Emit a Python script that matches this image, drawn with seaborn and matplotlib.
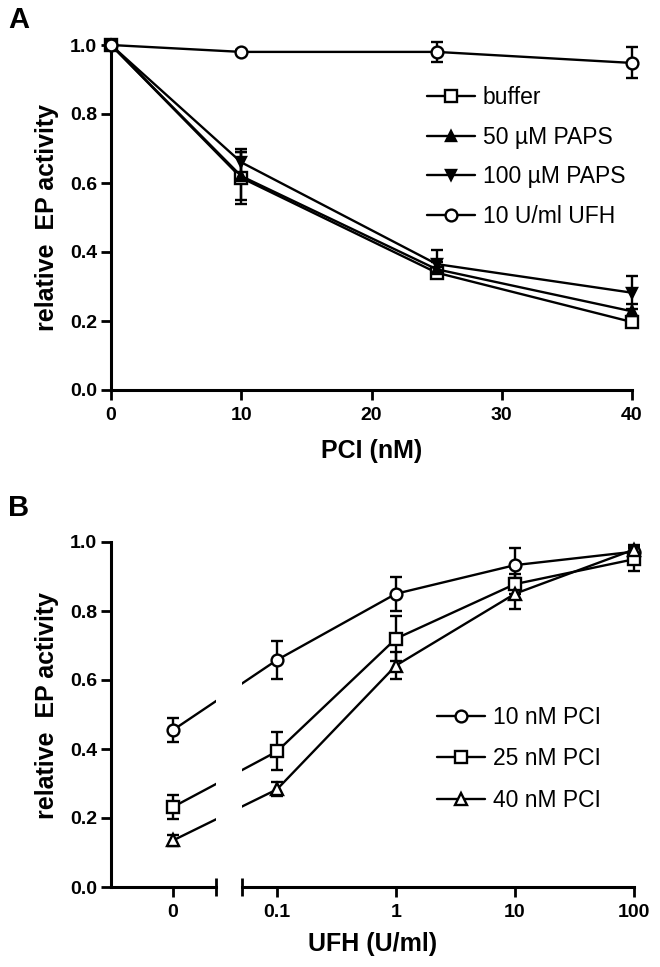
import matplotlib
matplotlib.use('Agg')
import matplotlib.pyplot as plt
import numpy as np
import seaborn as sns

# Panel A: EP activity vs PCI concentration
pci_nm = [0, 10, 25, 40]
buffer_mean = [1.0, 0.615, 0.34, 0.197]
buffer_err = [0.0, 0.075, 0.012, 0.015]
paps50_mean = [1.0, 0.62, 0.35, 0.228]
paps50_err = [0.0, 0.07, 0.02, 0.02]
paps100_mean = [1.0, 0.66, 0.365, 0.282]
paps100_err = [0.0, 0.04, 0.04, 0.047]
ufh10_mean = [1.0, 0.98, 0.98, 0.948]
ufh10_err = [0.0, 0.005, 0.03, 0.045]
labels_a = ['buffer', '50 µM PAPS', '100 µM PAPS', '10 U/ml UFH']

# Panel B: EP activity vs UFH concentration
ufh_u_ml = [0, 0.1, 1, 10, 100]
ufh_tick_labels = ['0', '0.1', '1', '10', '100']
pci10_mean = [0.455, 0.658, 0.85, 0.933, 0.972]
pci10_err = [0.035, 0.055, 0.05, 0.05, 0.012]
pci25_mean = [0.232, 0.393, 0.72, 0.878, 0.95]
pci25_err = [0.035, 0.055, 0.065, 0.03, 0.035]
pci40_mean = [0.135, 0.283, 0.642, 0.85, 0.978]
pci40_err = [0.015, 0.02, 0.04, 0.045, 0.012]
labels_b = ['10 nM PCI', '25 nM PCI', '40 nM PCI']

sns.set_style('ticks')
plt.rcParams['font.family'] = ['Liberation Sans', 'DejaVu Sans']
plt.rcParams['font.weight'] = 'bold'
plt.rcParams['axes.labelweight'] = 'bold'
plt.rcParams['text.color'] = 'black'
plt.rcParams['axes.labelcolor'] = 'black'
plt.rcParams['axes.edgecolor'] = 'black'
plt.rcParams['xtick.color'] = 'black'
plt.rcParams['ytick.color'] = 'black'

LW = 1.7
W, H = 660, 967


def style_axes(ax):
    for s in ax.spines.values():
        s.set_linewidth(2.2)
        s.set_color('black')
    ax.tick_params(width=2.0, length=7, labelsize=14, colors='black')
    ax.tick_params(axis='x', pad=5)
    ax.tick_params(axis='y', pad=3)


def draw_series(ax, x, y, err, marker, face, size, label=None, clip=True):
    x = np.asarray(x, dtype=float)
    y = np.asarray(y, dtype=float)
    err = np.asarray(err, dtype=float)
    sns.lineplot(x=x, y=y, ax=ax, color='black', lw=LW, marker=marker,
                 markersize=size, markerfacecolor=face, markeredgecolor='black',
                 markeredgewidth=LW, label=label, sort=False, estimator=None,
                 clip_on=clip, zorder=3, legend=False)
    m = err > 0
    eb = ax.errorbar(x[m], y[m], yerr=err[m], fmt='none', ecolor='black',
                     elinewidth=LW, capsize=4.6, capthick=LW, zorder=2)
    for art in eb.get_children():
        art.set_clip_on(clip)


fig = plt.figure(figsize=(W / 100, H / 100), dpi=100)

# ---------------- Panel A ----------------
axA = fig.add_axes([111 / W, 1 - 390 / H, 521 / W, 345 / H])
styles_a = [('s', 'white', 8.5), ('^', 'black', 7.5), ('v', 'black', 7.5), ('o', 'white', 8.5)]
series_a = [(buffer_mean, buffer_err), (paps50_mean, paps50_err),
            (paps100_mean, paps100_err), (ufh10_mean, ufh10_err)]
for (mean, err), (mk, fc, ms), lab in zip(series_a, styles_a, labels_a):
    draw_series(axA, pci_nm, mean, err, mk, fc, ms, label=lab, clip=False)

axA.set_xlim(0, 40)
axA.set_ylim(0, 1.0)
axA.set_xticks([0, 10, 20, 30, 40])
axA.set_yticks(np.arange(0, 1.01, 0.2))
axA.set_yticklabels([f'{v:.1f}' for v in np.arange(0, 1.01, 0.2)])
sns.despine(ax=axA)
style_axes(axA)
axA.set_xlabel('PCI (nM)', fontsize=18, labelpad=11)
axA.set_ylabel('relative  EP activity', fontsize=18, labelpad=8)
axA.legend(loc='upper left', bbox_to_anchor=(0.606, 0.88), frameon=False,
           prop={'weight': 'normal', 'size': 16.5}, handlelength=2.1,
           handletextpad=0.35, labelspacing=0.72, borderaxespad=0, borderpad=0)
fig.text(8 / W, 1 - 20 / H, 'A', fontsize=21, fontweight='bold', va='center', ha='left')

# ---------------- Panel B (broken log axis) ----------------
DEC = 119.0           # pixels per decade
ZERO_POS = -1.875     # where the zero dose sits on the log-position axis
b0_lim = (-2.396, -1.514)
b1_lim = (-1.294, 2.07)
ymax_b = 1.05
doses = np.asarray(ufh_u_ml, dtype=float)
pos_b = np.where(doses > 0, np.log10(np.where(doses > 0, doses, 1.0)), ZERO_POS)

b_bottom = 1 - 887 / H
b_height = 345 * ymax_b / H
ax0 = fig.add_axes([111 / W, b_bottom, (b0_lim[1] - b0_lim[0]) * DEC / W, b_height])
ax1 = fig.add_axes([242 / W, b_bottom, (b1_lim[1] - b1_lim[0]) * DEC / W, b_height])

styles_b = [('o', 'white', 8.5), ('s', 'white', 8.5), ('^', 'white', 8.0)]
series_b = [(pci10_mean, pci10_err), (pci25_mean, pci25_err), (pci40_mean, pci40_err)]
for (mean, err), (mk, fc, ms), lab in zip(series_b, styles_b, labels_b):
    draw_series(ax0, pos_b, mean, err, mk, fc, ms)
    draw_series(ax1, pos_b, mean, err, mk, fc, ms, label=lab)

for ax, lim in ((ax0, b0_lim), (ax1, b1_lim)):
    ax.set_xlim(*lim)
    ax.set_ylim(0, ymax_b)
    style_axes(ax)
    ax.spines['top'].set_visible(False)
    ax.spines['right'].set_visible(False)

ax0.spines['bottom'].set_bounds(b0_lim[0], b0_lim[1])
ax0.spines['left'].set_bounds(0, 1.0)
ax0.set_yticks(np.arange(0, 1.01, 0.2))
ax0.set_yticklabels([f'{v:.1f}' for v in np.arange(0, 1.01, 0.2)])
ax0.set_xticks([pos_b[0]])
ax0.set_xticklabels([ufh_tick_labels[0]])
ax0.set_xticks([b0_lim[1]], minor=True)

ax1.spines['left'].set_visible(False)
ax1.spines['bottom'].set_bounds(b1_lim[0], pos_b[-1])
ax1.set_yticks([])
ax1.set_xticks(pos_b[1:])
ax1.set_xticklabels(ufh_tick_labels[1:])
ax1.set_xticks([b1_lim[0]], minor=True)

for ax in (ax0, ax1):
    ax.tick_params(axis='x', which='minor', direction='inout', length=13, width=2.0)

ax0.set_ylabel('relative  EP activity', fontsize=18, labelpad=8)
fig.text((111 + 634) / 2 / W, 1 - 944 / H, 'UFH (U/ml)', fontsize=18,
         fontweight='bold', ha='center', va='center')
ax1.legend(loc='upper left', bbox_to_anchor=(0.487, 0.50), frameon=False,
           prop={'weight': 'normal', 'size': 16.5}, handlelength=2.1,
           handletextpad=0.35, labelspacing=0.8, borderaxespad=0, borderpad=0)
fig.text(8 / W, 1 - 508 / H, 'B', fontsize=21, fontweight='bold', va='center', ha='left')

fig.savefig('out.png', dpi=100)
